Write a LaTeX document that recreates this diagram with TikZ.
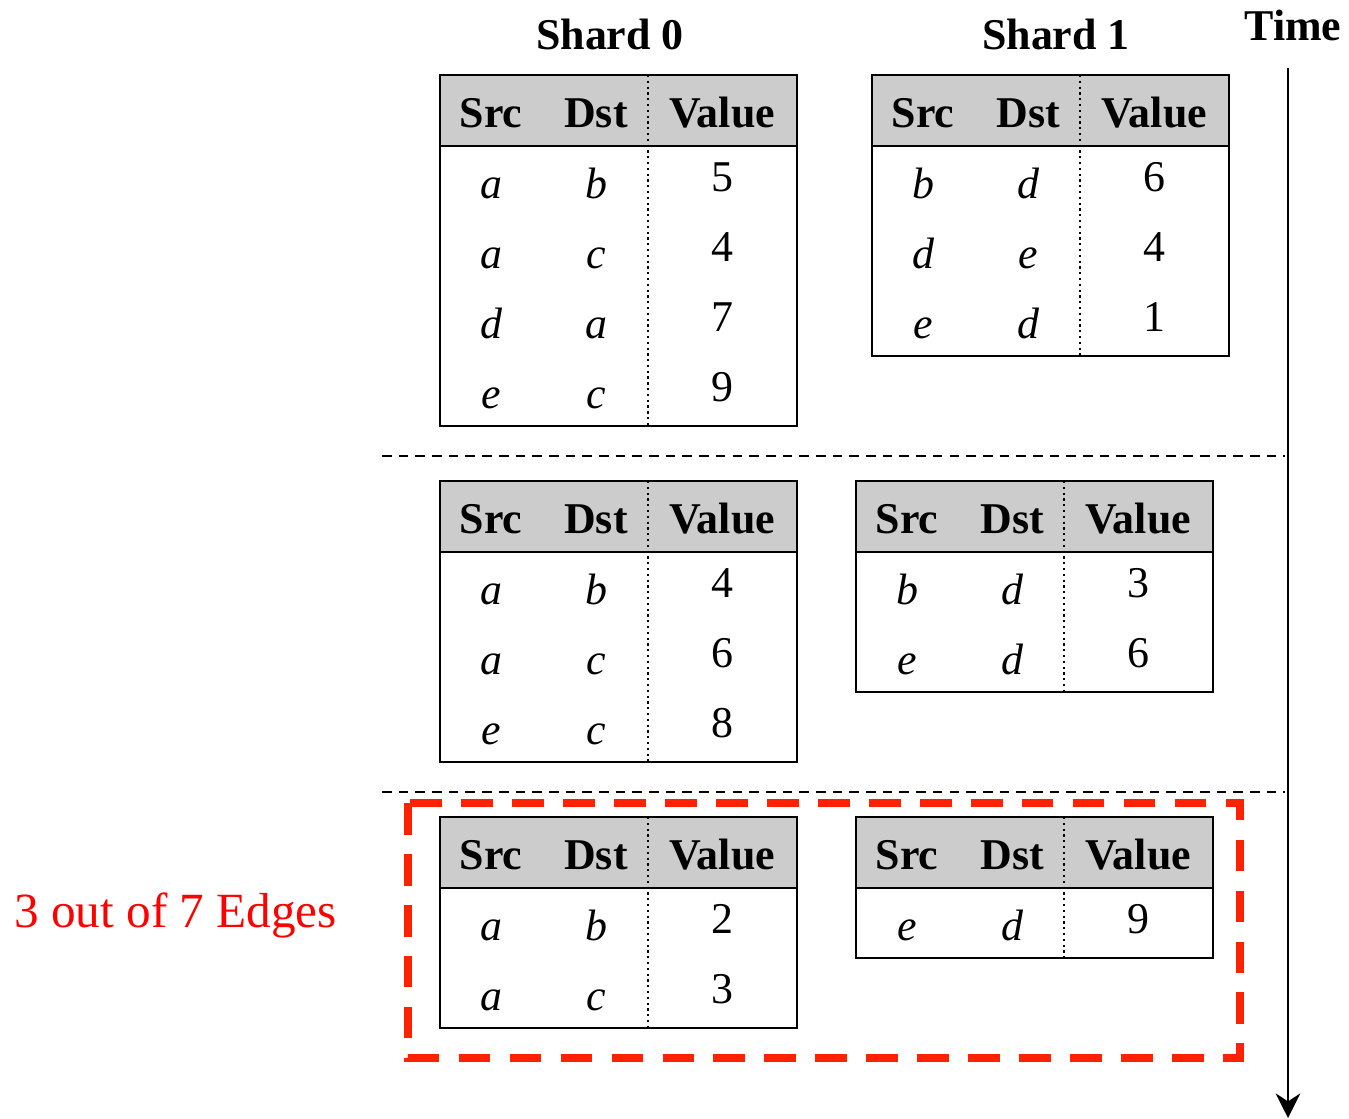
\documentclass[tikz,border=0pt]{standalone}
\usepackage{fontspec}
\setmainfont{Liberation Serif}
\usetikzlibrary{arrows.meta}
\definecolor{headgray}{RGB}{204,204,204}
\definecolor{boxred}{RGB}{255,34,0}
\newcommand{\bigfont}{\fontsize{25}{30}\selectfont}
\tikzset{
	titletext/.style={anchor=base, inner sep=0pt, font=\bigfont\bfseries},
	headtext/.style={anchor=base, inner sep=0pt, font=\bigfont\bfseries},
	celltext/.style={anchor=base, inner sep=0pt, font=\bigfont\itshape},
	valtext/.style={anchor=base, inner sep=0pt, font=\bigfont},
	tableline/.style={line width=1.6pt},
	coldiv/.style={line width=1.3pt, dotted},
	timesep/.style={line width=1.1pt, dash pattern=on 5.5pt off 4pt},
	samplebox/.style={boxred, line width=4.5pt, dash pattern=on 18pt off 11pt},
}
% #1 name, (#2,#3) top left corner, #4 number of rows, #5 src/dst/value list
\newcommand{\shardtable}[5]{%
	\begin{scope}[shift={(#2,#3)}]
		\fill[headgray] (0,0) rectangle (357,71);
		\draw[coldiv] (208,0) -- (208,{71+70*#4});
		\draw[tableline] (0,71) -- (357,71);
		\draw[tableline] (0,0) rectangle (357,{71+70*#4});
		\node[headtext] (#1-src) at (51,52) {Src};
		\node[headtext] (#1-dst) at (156,52) {Dst};
		\node[headtext] (#1-val) at (282,52) {Value};
		\foreach \sv/\dv/\vv [count=\i] in {#5}{
			\node[celltext] (#1-s\i) at (51,{71+70*(\i-1)+52}) {\sv};
			\node[celltext] (#1-d\i) at (156,{71+70*(\i-1)+52}) {\dv};
			\node[valtext] (#1-v\i) at (282,{71+70*(\i-1)+45}) {\vv};
		}
	\end{scope}
}
\begin{document}
\begin{tikzpicture}[x=0.02cm, y=-0.02cm]
		\useasboundingbox (0,0) rectangle (1349,1119);
		%--titles
		\node[titletext] (shard0) at (610,50) {Shard 0};
		\node[titletext] (shard1) at (1056,50) {Shard 1};
		\node[titletext] (time) at (1293,40) {Time};
		
		%--time axis
		\coordinate (tstart) at (1288,68);
		\coordinate (tend) at (1288,1118);
		\draw[line width=1.2pt, -{Stealth[length=14pt, width=14pt]}] (tstart) -- (tend);
		
		%--first step
		\shardtable{t00}{440}{75}{4}{a/b/5, a/c/4, d/a/7, e/c/9}
		\shardtable{t01}{872}{75}{3}{b/d/6, d/e/4, e/d/1}
		
		\coordinate (sep1l) at (382,456);
		\coordinate (sep1r) at (1285,456);
		\draw[timesep] (sep1l) -- (sep1r);
		
		%--second step
		\shardtable{t10}{440}{481}{3}{a/b/4, a/c/6, e/c/8}
		\shardtable{t11}{856}{481}{2}{b/d/3, e/d/6}
		
		\coordinate (sep2l) at (382,792);
		\coordinate (sep2r) at (1285,792);
		\draw[timesep] (sep2l) -- (sep2r);
		
		%--third step, the sampled edges
		\shardtable{t20}{440}{817}{2}{a/b/2, a/c/3}
		\shardtable{t21}{856}{817}{1}{e/d/9}
		
		\draw[samplebox] (408,803) rectangle (1240,1058);
		\node[anchor=base west, inner sep=0pt, text=red, font=\fontsize{28}{34}\selectfont] (sample) at (14,927) {3 out of 7 Edges};
	\end{tikzpicture}
\end{document}
